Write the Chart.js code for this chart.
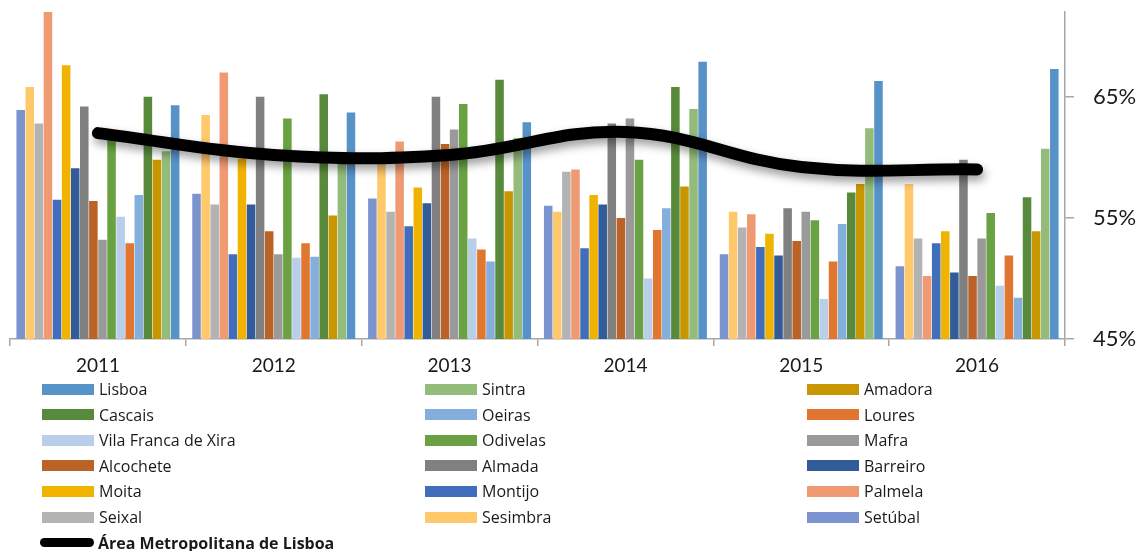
<!DOCTYPE html>
<html>
<head>
<meta charset="utf-8">
<script src="https://cdn.jsdelivr.net/npm/chart.js@4.4.1/dist/chart.umd.min.js"></script>
<style>
  html, body { margin: 0; padding: 0; background: #ffffff; }
  #wrap { position: relative; width: 1142px; height: 551px; overflow: hidden; }
  #legend { position: absolute; left: 0; top: 0; width: 1142px; height: 551px; pointer-events: none;
            font-family: "Open Sans", "Noto Sans", sans-serif; font-size: 16px; color: #1a1a1a; }
  .item { position: absolute; display: flex; align-items: center; height: 20px; white-space: nowrap; }
  .sw { width: 52px; height: 11px; margin-right: 5px; }
  .lsw { width: 54px; height: 9px; border-radius: 5px; background: #000; margin-right: 4px; margin-left: -2px; }
  .bold { font-weight: bold; }
</style>
</head>
<body>
<div id="wrap">
  <canvas id="c"></canvas>
  <div id="legend"></div>
</div>
<script>
// Categories
const years = ['2011', '2012', '2013', '2014', '2015', '2016'];
// Y tick labels (percent)
const yTicks = [45, 55, 65];

// Series values (%), legend order
const lisboa    = [64.3, 63.7, 62.9, 67.9, 66.3, 67.3];
const sintra    = [60.5, 59.8, 61.6, 64.0, 62.4, 60.7];
const amadora   = [59.8, 55.2, 57.2, 57.6, 57.8, 53.9];
const cascais   = [65.0, 65.2, 66.4, 65.8, 57.1, 56.7];
const oeiras    = [56.9, 51.8, 51.4, 55.8, 54.5, 48.4];
const loures    = [52.9, 52.9, 52.4, 54.0, 51.4, 51.9];
const vfxira    = [55.1, 51.7, 53.3, 50.0, 48.3, 49.4];
const odivelas  = [61.8, 63.2, 64.4, 59.8, 54.8, 55.4];
const mafra     = [53.2, 52.0, 62.3, 63.2, 55.5, 53.3];
const alcochete = [56.4, 53.9, 61.1, 55.0, 53.1, 50.2];
const almada    = [64.2, 65.0, 65.0, 62.8, 55.8, 59.8];
const barreiro  = [59.1, 56.1, 56.2, 56.1, 51.9, 50.5];
const moita     = [67.6, 59.9, 57.5, 56.9, 53.7, 53.9];
const montijo   = [56.5, 52.0, 54.3, 52.5, 52.6, 52.9];
const palmela   = [72.0, 67.0, 61.3, 59.0, 55.3, 50.2];
const seixal    = [62.8, 56.1, 55.5, 58.8, 54.2, 53.3];
const sesimbra  = [65.8, 63.5, 59.5, 55.5, 55.5, 57.8];
const setubal   = [63.9, 57.0, 56.6, 56.0, 52.0, 51.0];
const aml       = [62.0, 60.2, 60.2, 62.1, 59.2, 59.0];

const names = ['Lisboa','Sintra','Amadora','Cascais','Oeiras','Loures','Vila Franca de Xira','Odivelas','Mafra',
               'Alcochete','Almada','Barreiro','Moita','Montijo','Palmela','Seixal','Sesimbra','Setúbal'];
const values = [lisboa, sintra, amadora, cascais, oeiras, loures, vfxira, odivelas, mafra,
                alcochete, almada, barreiro, moita, montijo, palmela, seixal, sesimbra, setubal];
const colors = ['#5792C8','#93BC7A','#C89600','#588A3B','#84AEDC','#E07630','#B9CEEA','#6AA243','#9A9A9A',
                '#BB6226','#808080','#325B99','#F0B300','#416EBB','#F09A73','#B3B3B3','#FEC86B','#7B93CF'];
const lineName = 'Área Metropolitana de Lisboa';

// Bars are drawn in reverse legend order (Setúbal first on the left)
const datasets = [];
for (let i = names.length - 1; i >= 0; i--) {
  datasets.push({
    type: 'bar', label: names[i], data: values[i], backgroundColor: colors[i],
    borderWidth: 0, order: 1, categoryPercentage: 0.93, barPercentage: 0.94
  });
}
datasets.push({
  type: 'line', label: lineName, data: aml, borderColor: '#000000', borderWidth: 12,
  pointRadius: 0, tension: 0.4, borderCapStyle: 'round', borderJoinStyle: 'round', fill: false, order: 0
});

const shadowPlugin = {
  id: 'lineShadow',
  beforeDatasetDraw(chart, args) {
    if (chart.data.datasets[args.index].type === 'line') {
      const ctx = chart.ctx;
      ctx.save();
      ctx.shadowColor = 'rgba(0,0,0,0.4)';
      ctx.shadowBlur = 10;
      ctx.shadowOffsetX = 2;
      ctx.shadowOffsetY = 5;
    }
  },
  afterDatasetDraw(chart, args) {
    if (chart.data.datasets[args.index].type === 'line') chart.ctx.restore();
  }
};

const axisColor = '#A6A6A6';
new Chart(document.getElementById('c'), {
  data: { labels: years, datasets },
  plugins: [shadowPlugin],
  options: {
    responsive: true, maintainAspectRatio: false, animation: false,
    layout: { padding: { left: 10, right: 0, top: 12, bottom: 172 } },
    plugins: { legend: { display: false }, tooltip: { enabled: false } },
    scales: {
      x: {
        offset: true,
        grid: { display: true, offset: true, drawOnChartArea: false, drawTicks: true, tickLength: 7, color: axisColor, lineWidth: 1.5 },
        border: { display: true, color: axisColor, width: 1.5 },
        ticks: { color: '#1a1a1a', font: { family: 'Lato', size: 19 }, padding: 8, maxRotation: 0 },
        afterFit(s) { s.height = 40; s.paddingLeft = 0; s.paddingRight = 0; }
      },
      y: {
        position: 'right', min: 45, max: 72,
        afterBuildTicks(s) { s.ticks = yTicks.map(v => ({ value: v })); },
        grid: { display: true, drawOnChartArea: false, drawTicks: true, tickLength: 9, color: axisColor, lineWidth: 1.5 },
        border: { display: true, color: axisColor, width: 1.5 },
        ticks: { color: '#1a1a1a', font: { family: 'Lato', size: 22 }, padding: 19, callback: v => v + '%' },
        afterFit(s) { s.width = 77; s.paddingTop = 0; s.paddingBottom = 0; }
      }
    }
  }
});

// HTML legend: 3 columns, row-wise, plus line entry
const leg = document.getElementById('legend');
const colX = [42, 425, 807];
const rowY0 = 379, rowStep = 25.6;
names.forEach((n, i) => {
  const d = document.createElement('div');
  d.className = 'item';
  d.style.left = colX[i % 3] + 'px';
  d.style.top = (rowY0 + Math.floor(i / 3) * rowStep) + 'px';
  const sw = document.createElement('span');
  sw.className = 'sw'; sw.style.background = colors[i];
  const t = document.createElement('span'); t.textContent = n;
  d.appendChild(sw); d.appendChild(t); leg.appendChild(d);
});
const dl = document.createElement('div');
dl.className = 'item';
dl.style.left = colX[0] + 'px';
dl.style.top = (rowY0 + 6 * rowStep) + 'px';
const lsw = document.createElement('span'); lsw.className = 'lsw';
const lt = document.createElement('span'); lt.className = 'bold'; lt.textContent = lineName;
dl.appendChild(lsw); dl.appendChild(lt); leg.appendChild(dl);
</script>
</body>
</html>
